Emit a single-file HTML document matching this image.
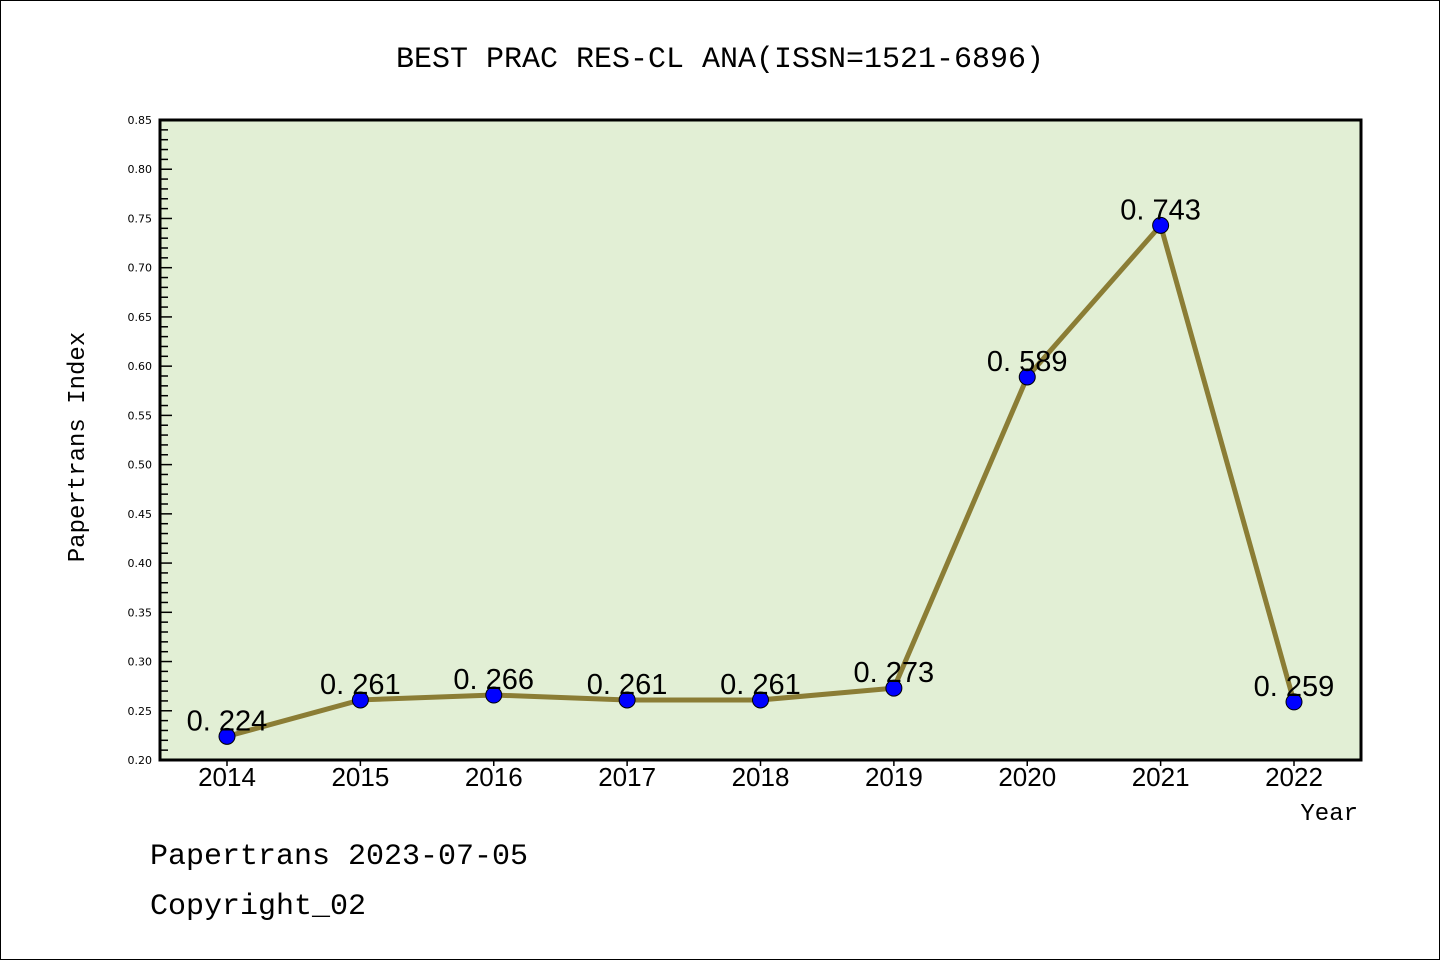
<!DOCTYPE html>
<html><head><meta charset="utf-8"><style>body{margin:0;background:#fff}svg{display:block}</style></head>
<body>
<svg width="1440" height="960" xmlns="http://www.w3.org/2000/svg">
<rect x="0.5" y="0.5" width="1439" height="959" fill="#fff" stroke="#000"/>
<text x="720" y="67" text-anchor="middle" font-family="Liberation Mono, DejaVu Sans Mono, monospace" font-size="30">BEST PRAC RES-CL ANA(ISSN=1521-6896)</text>
<rect x="160" y="120" width="1201" height="640" fill="#e2efd5"/>
<g id="axes"></g>
<g id="series"></g>
<rect x="160" y="120" width="1201" height="640" fill="none" stroke="#000" stroke-width="3"/>
<text transform="translate(84,447) rotate(-90)" text-anchor="middle" font-family="Liberation Mono, DejaVu Sans Mono, monospace" font-size="24">Papertrans Index</text>
<text x="1358" y="820" text-anchor="end" font-family="Liberation Mono, DejaVu Sans Mono, monospace" font-size="24">Year</text>
<text x="150" y="864" font-family="Liberation Mono, DejaVu Sans Mono, monospace" font-size="30">Papertrans 2023-07-05</text>
<text x="150" y="914" font-family="Liberation Mono, DejaVu Sans Mono, monospace" font-size="30">Copyright_02</text>
</svg>
<script>
const years = ['2014','2015','2016','2017','2018','2019','2020','2021','2022'];
const values = [0.224,0.261,0.266,0.261,0.261,0.273,0.589,0.743,0.259];
const yTicks = [0.20,0.25,0.30,0.35,0.40,0.45,0.50,0.55,0.60,0.65,0.70,0.75,0.80,0.85];
const NS='http://www.w3.org/2000/svg';
const X0=227, X1=1294, Y0=760, Y1=120, YMIN=0.2, YMAX=0.85;
function xs(i){return X0+(X1-X0)*i/(years.length-1);}
function ys(v){return Y0-(v-YMIN)/(YMAX-YMIN)*(Y0-Y1);}
function mk(tag,attrs,parent){const e=document.createElementNS(NS,tag);for(const k in attrs)e.setAttribute(k,attrs[k]);parent.appendChild(e);return e;}
const ax=document.getElementById('axes'), se=document.getElementById('series');
for(let k=0;k<=65;k++){
  const v=YMIN+k*0.01, y=ys(v), major=k%5===0;
  const t=mk('line',{x1:160,x2:160+(major?12:8),y1:y,y2:y,stroke:'#000','stroke-width':1.5},ax);
  
  
}
yTicks.forEach(v=>{
  const t=mk('text',{x:152,y:ys(v)+4,'text-anchor':'end','font-family':'DejaVu Sans, sans-serif','font-size':11},ax);
  t.textContent=v.toFixed(2);
  
  
});
years.forEach((yr,i)=>{
  const l=mk('line',{x1:xs(i),x2:xs(i),y1:760,y2:766,stroke:'#000','stroke-width':1.5},ax);
  
  
  const t=mk('text',{x:xs(i),y:786,'text-anchor':'middle','font-family':'Liberation Sans, sans-serif','font-size':26},ax);
  t.textContent=yr;
  
  
});
const line=mk('polyline',{points:values.map((v,i)=>xs(i)+','+ys(v)).join(' '),fill:'none',stroke:'#8b7d35','stroke-width':5},se);


values.forEach((v,i)=>{
  const c=mk('circle',{cx:xs(i),cy:ys(v),r:8,fill:'#0000ff',stroke:'#000','stroke-width':1},se);
  
  
  const t=mk('text',{x:xs(i),y:ys(v)-6,'text-anchor':'middle','font-family':'Liberation Sans, sans-serif','font-size':29},se);
  t.textContent=v.toFixed(3).replace('.','. ');
  
  
});
</script>
</body></html>
